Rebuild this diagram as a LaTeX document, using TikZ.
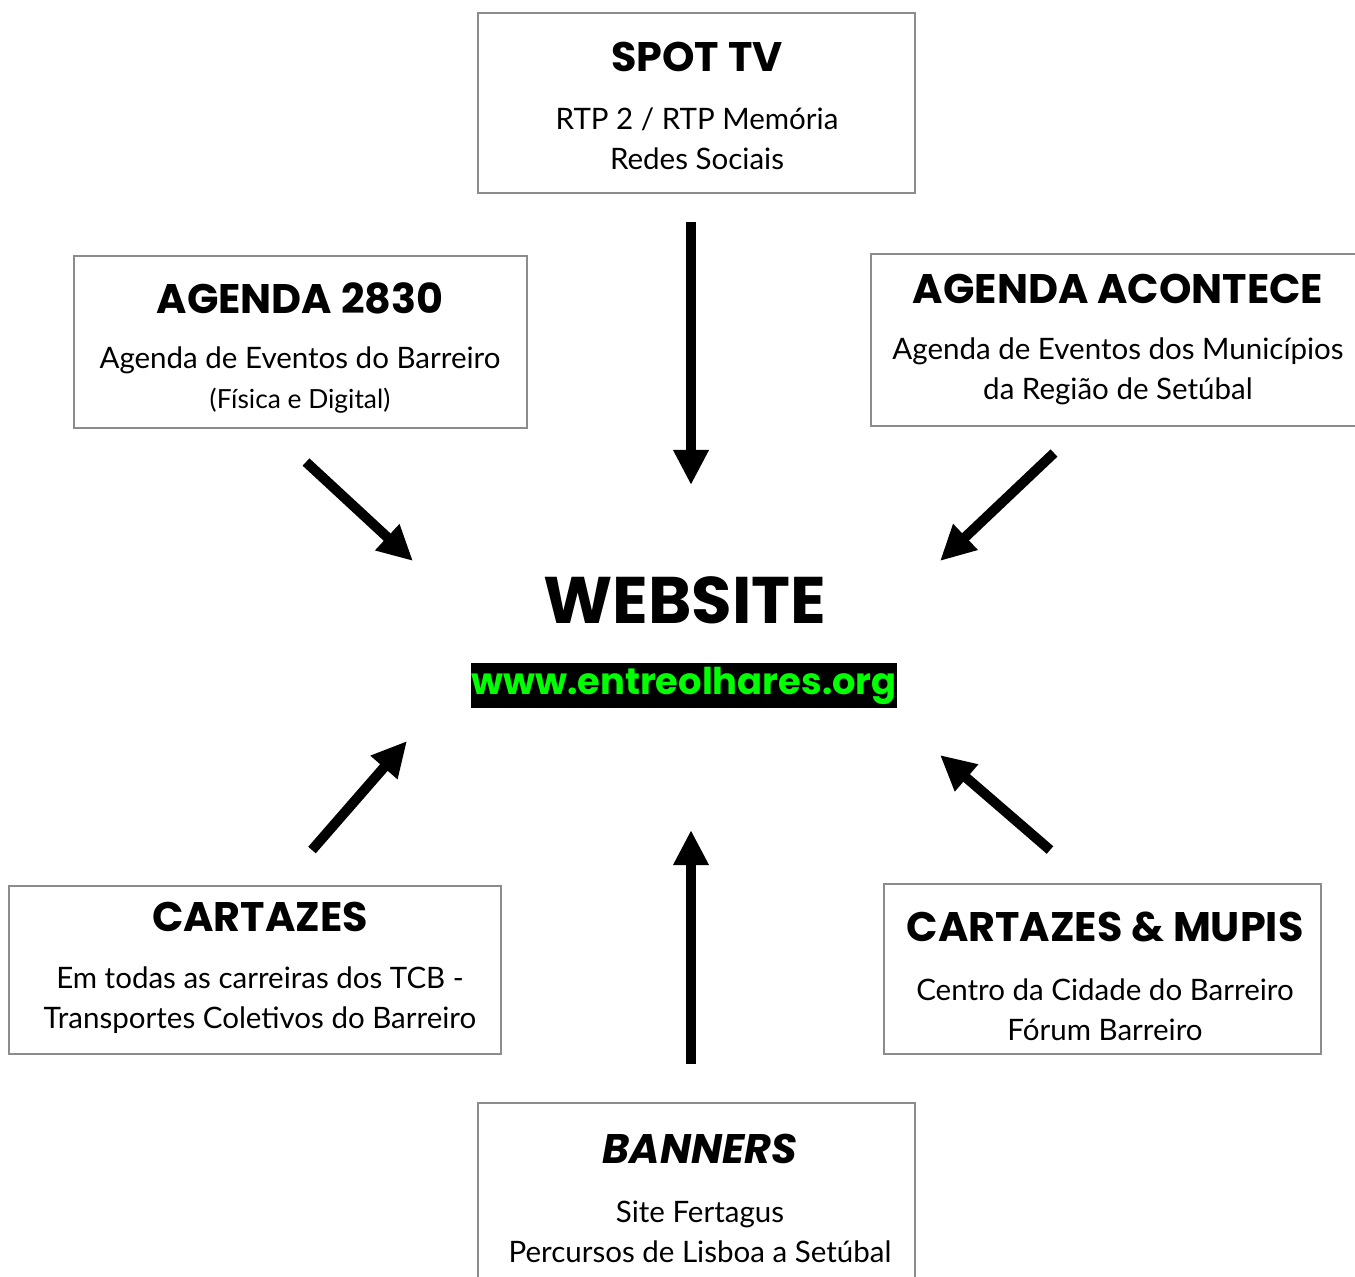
\documentclass[tikz,border=0pt]{standalone}
\usepackage{fontspec}
\setmainfont{Lato}
\newfontfamily\headfont{Poppins}
\usetikzlibrary{arrows.meta,positioning}
\definecolor{boxgray}{HTML}{8C8C8C}
\definecolor{urlgreen}{HTML}{00FF00}
\begin{document}
\begin{tikzpicture}[x=0.02cm,y=-0.02cm,
  box/.style={draw=boxgray,line width=1.1pt,inner sep=0pt},
  title/.style={font=\headfont\bfseries\fontsize{23.5}{28}\selectfont},
  body/.style={align=center,font=\fontsize{16.8}{22.7}\selectfont},
  bigarrow/.style={line width=5.7pt,-{Triangle[length=20pt,width=19pt]}}]
  \useasboundingbox (0,0) rectangle (1355,1276);
  \clip (0,0) rectangle (1355,1276);
  % boxes
  \node[box,minimum width=8.74cm,minimum height=3.6cm] (spot) at (696.5,103) {};
  \node[box,minimum width=9.06cm,minimum height=3.44cm] (agd) at (300.5,342) {};
  \node[box,minimum width=9.88cm,minimum height=3.44cm] (acon) at (1118,340) {};
  \node[box,minimum width=9.84cm,minimum height=3.36cm] (cart) at (255,970) {};
  \node[box,minimum width=8.74cm,minimum height=3.4cm] (mupis) at (1102.5,969) {};
  \node[box,minimum width=8.74cm,minimum height=3.74cm] (bann) at (696.5,1196.5) {};
  % titles and texts
  \node[title] (spottitle) at (697,57) {SPOT TV};
  \node[body] (spottext) at (697,139) {RTP 2 / RTP Memória\\Redes Sociais};
  \node[title] (agdtitle) at (300,298) {AGENDA 2830};
  \node[body] (agdtext) at (300,380) {Agenda de Eventos do Barreiro\\{\fontsize{15}{16}\selectfont(Física e Digital)}};
  \node[title] (acontitle) at (1118,289) {AGENDA ACONTECE};
  \node[body] (acontext) at (1118,371) {Agenda de Eventos dos Municípios\\da Região de Setúbal};
  \node[title] (carttitle) at (260,917) {CARTAZES};
  \node[body] (carttext) at (260,1000) {Em todas as carreiras dos TCB -\\Transportes Coletivos do Barreiro};
  \node[title] (mupistitle) at (1105,927) {CARTAZES \& MUPIS};
  \node[body] (mupistext) at (1105,1010) {Centro da Cidade do Barreiro\\Fórum Barreiro};
  \node[title,font=\headfont\bfseries\itshape\fontsize{23.5}{28}\selectfont] (banntitle) at (700,1149) {BANNERS};
  \node[body] (banntext) at (700,1232) {Site Fertagus\\Percursos de Lisboa a Setúbal};
  % centre
  \node[font=\headfont\bfseries\fontsize{37.5}{42}\selectfont] (web) at (685,600) {WEBSITE};
  \node[fill=black,text=urlgreen,inner sep=0pt,minimum width=8.52cm,minimum height=0.9cm,
    font=\headfont\bfseries\fontsize{21}{24}\selectfont] (url) at (684,685.5) {www.entreolhares.org};
  % arrows
  \coordinate (spotfrom) at (691,222);  \coordinate (spotto) at (691,485);
  \coordinate (agdfrom) at (306,462);   \coordinate (agdto) at (413,561);
  \coordinate (aconfrom) at (1054,453); \coordinate (aconto) at (940,561);
  \coordinate (cartfrom) at (312,850);  \coordinate (cartto) at (407,741);
  \coordinate (mupisfrom) at (1050,850);\coordinate (mupisto) at (940,755);
  \coordinate (bannfrom) at (691,1064); \coordinate (bannto) at (691,830);
  \foreach \a in {spot,agd,acon,cart,mupis,bann}
    \draw[bigarrow] (\a from) -- (\a to);
\end{tikzpicture}
\end{document}
